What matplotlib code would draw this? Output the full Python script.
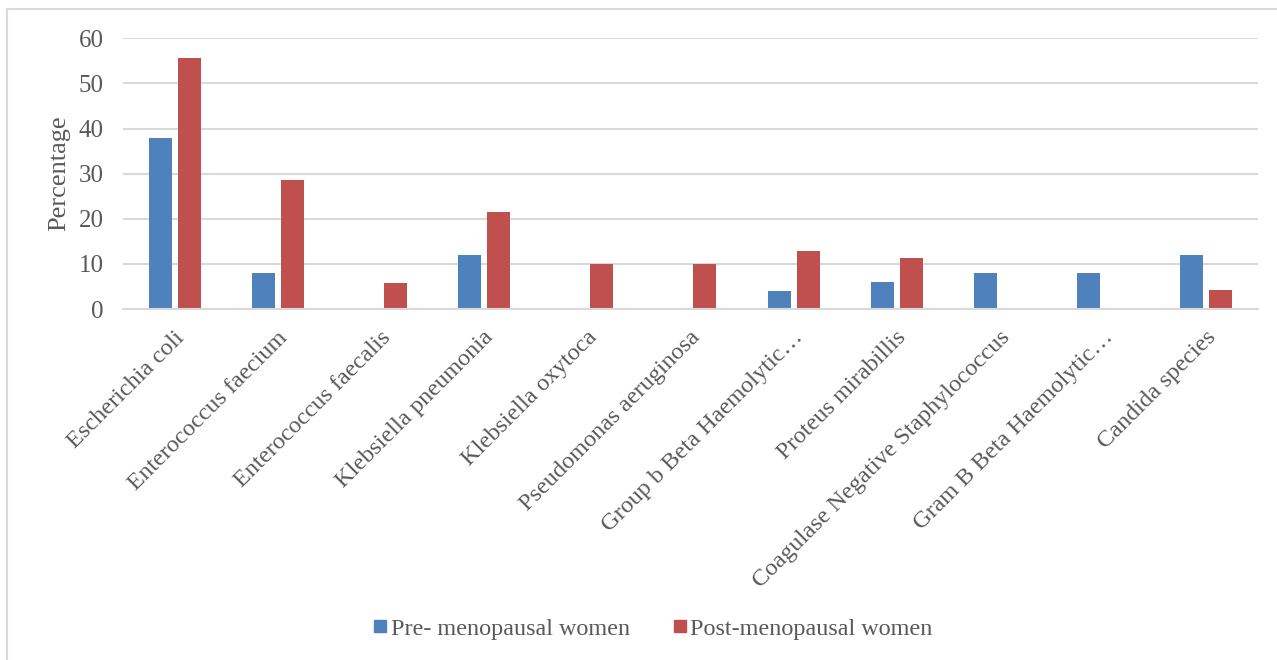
import numpy as np
import matplotlib.transforms as mtransforms
from matplotlib import pyplot as plt
from matplotlib.lines import Line2D

categories = [
    "Escherichia coli",
    "Enterococcus faecium",
    "Enterococcus faecalis",
    "Klebsiella pneumonia",
    "Klebsiella oxytoca",
    "Pseudomonas aeruginosa",
    "Group b Beta Haemolytic\u2026",
    "Proteus mirabillis",
    "Coagulase Negative Staphylococcus",
    "Gram B Beta Haemolytic\u2026",
    "Candida species",
]
pre_menopausal = [38, 8, 0, 12, 0, 0, 4, 6, 8, 8, 12]
post_menopausal = [55.7, 28.6, 5.7, 21.4, 10, 10, 12.9, 11.4, 0, 0, 4.3]
series_names = ["Pre- menopausal women", "Post-menopausal women"]

BLUE = "#4F81BD"
RED = "#C0504D"
TEXT = "#595959"
GRID = "#D9D9D9"
W, H = 1277, 660

plt.rcParams["font.family"] = ["Liberation Serif", "DejaVu Serif"]

figure = plt.figure(figsize=(W / 100, H / 100), dpi=100)
axis = figure.add_axes((123 / W, 1 - 309 / H, (1258 - 123) / W, (309 - 38.3) / H))

x = np.arange(len(categories))
width = 0.223
offset = 0.14
axis.bar(x - offset, pre_menopausal, width, color=BLUE, label=series_names[0])
axis.bar(x + offset, post_menopausal, width, color=RED, label=series_names[1])

axis.set_xlim(-0.5, len(categories) - 0.5)
axis.set_ylim(0, 60)
axis.set_yticks(range(0, 61, 10))
axis.yaxis.grid(True, color=GRID, linewidth=1.5)
axis.set_axisbelow(True)
for side in ("top", "right", "left"):
    axis.spines[side].set_visible(False)
axis.spines["bottom"].set_color(GRID)
axis.spines["bottom"].set_linewidth(1.5)
axis.tick_params(axis="both", length=0, labelcolor=TEXT)
axis.tick_params(axis="y", pad=14, labelsize=18)
axis.tick_params(axis="x", pad=13, labelsize=17.5)
axis.set_xticks(x)
axis.set_xticklabels(categories, rotation=45, ha="right", rotation_mode="anchor")
shift = mtransforms.ScaledTranslation(-1 / 100, 0, figure.dpi_scale_trans)
for label in axis.get_xticklabels():
    label.set_transform(label.get_transform() + shift)

axis.set_ylabel("Percentage", fontsize=19, color=TEXT, labelpad=6)

handles = [
    Line2D([], [], marker="s", linestyle="none", markersize=9, color=BLUE),
    Line2D([], [], marker="s", linestyle="none", markersize=9, color=RED),
]
figure.legend(
    handles,
    series_names,
    loc="center",
    bbox_to_anchor=(651 / W, 1 - 629 / H),
    ncol=2,
    frameon=False,
    fontsize=17.4,
    labelcolor=TEXT,
    handletextpad=0.0,
    columnspacing=1.6,
    handlelength=0.9,
)

# chart area border (top and left edges visible)
figure.add_artist(Line2D([7 / W, 7 / W], [0, 1 - 9 / H], color=GRID, linewidth=1.5))
figure.add_artist(Line2D([7 / W, 1], [1 - 9 / H, 1 - 9 / H], color=GRID, linewidth=1.5))

figure.savefig("out.png", dpi=100)
plt.close(figure)
